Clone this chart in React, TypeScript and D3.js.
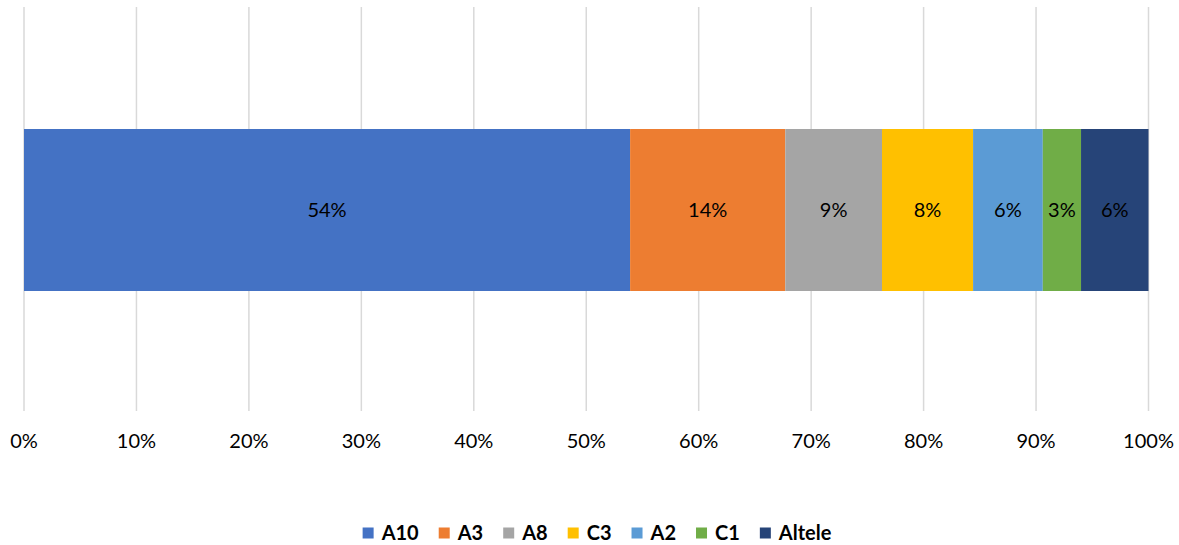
import React from "react";
import * as d3 from "d3";

const categories = ["A10", "A3", "A8", "C3", "A2", "C1", "Altele"];
const values = [53.9, 13.8, 8.6, 8.1, 6.2, 3.4, 6.0];
const colors = ["#4472C4", "#ED7D31", "#A5A5A5", "#FFC000", "#5B9BD5", "#70AD47", "#264478"];
const ticks = [0, 10, 20, 30, 40, 50, 60, 70, 80, 90, 100];

const W = 1179;
const H = 545;
const FONT = "Lato, 'Open Sans', sans-serif";

function measure(text: string, font: string): number {
  const c = document.createElement("canvas");
  const ctx = c.getContext("2d");
  if (!ctx) return text.length * 10;
  ctx.font = font;
  return ctx.measureText(text).width;
}

export default function App() {
  const x = d3.scaleLinear().domain([0, 100]).range([24, 1148.5]);
  const total = d3.sum(values);
  const stack: { cat: string; x0: number; x1: number; v: number; c: string }[] = [];
  let acc = 0;
  values.forEach((v, i) => {
    const p = (v / total) * 100;
    stack.push({ cat: categories[i], x0: acc, x1: acc + p, v: p, c: colors[i] });
    acc += p;
  });
  const barTop = 129;
  const barBottom = 291;

  const fs = 20;
  const legendFont = `bold ${fs}px Lato`;
  const labelWidths = categories.map((c) => measure(c, legendFont));
  const sq = 11;
  const gapSq = 8;
  const gapItem = 20;
  const totalLegend =
    d3.sum(labelWidths) + categories.length * (sq + gapSq) + (categories.length - 1) * gapItem;
  let lx = 597 - totalLegend / 2;
  const legendPos = categories.map((_, i) => {
    const pos = lx;
    lx += sq + gapSq + labelWidths[i] + gapItem;
    return pos;
  });

  return (
    <svg width={W} height={H} style={{ position: "absolute", left: 0, top: 0, background: "#fff" }}>
      <rect width={W} height={H} fill="#fff" />
      {ticks.map((t) => (
        <line key={t} x1={x(t)} x2={x(t)} y1={7} y2={411} stroke="#D9D9D9" strokeWidth={1.5} />
      ))}
      {stack.map((s) => (
        <rect key={s.cat} x={x(s.x0)} width={x(s.x1) - x(s.x0)} y={barTop} height={barBottom - barTop} fill={s.c} />
      ))}
      {stack.map((s) => (
        <text
          key={"l" + s.cat}
          x={(x(s.x0) + x(s.x1)) / 2}
          y={(barTop + barBottom) / 2}
          dy="0.35em"
          textAnchor="middle"
          fontFamily={FONT}
          fontSize={fs}
          fill="#000"
        >
          {Math.round(s.v) + "%"}
        </text>
      ))}
      {ticks.map((t) => (
        <text key={"t" + t} x={x(t)} y={441} dy="0.35em" textAnchor="middle" fontFamily={FONT} fontSize={fs} fill="#000">
          {t + "%"}
        </text>
      ))}
      {categories.map((c, i) => (
        <g key={"lg" + c} transform={`translate(${legendPos[i]},533)`}>
          <rect x={0} y={-sq / 2} width={sq} height={sq} fill={colors[i]} />
          <text x={sq + gapSq} y={0} dy="0.35em" fontFamily={FONT} fontWeight="bold" fontSize={fs} fill="#000">
            {c}
          </text>
        </g>
      ))}
    </svg>
  );
}
